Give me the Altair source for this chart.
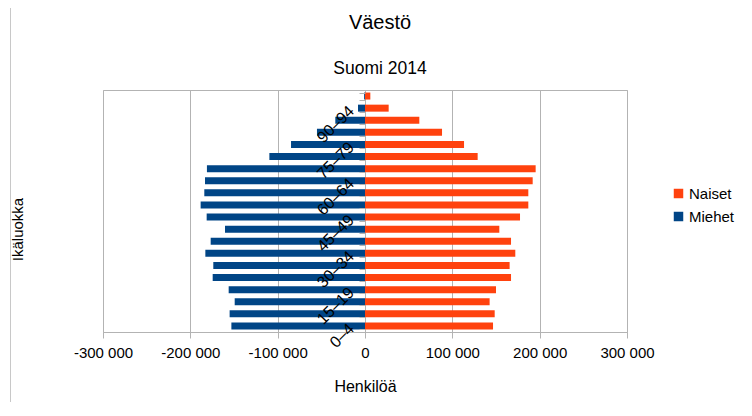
import altair as alt
import pandas as pd

ages = ["0–4", "5–9", "10–14", "15–19", "20–24", "25–29", "30–34", "35–39",
        "40–44", "45–49", "50–54", "55–59", "60–64", "65–69", "70–74", "75–79",
        "80–84", "85–89", "90–94", "95–"]
women = [146600, 148500, 142700, 150000, 167200, 165600, 172100, 167200,
         153800, 177500, 187000, 187000, 192000, 195400, 129000, 113400,
         88200, 62200, 27100, 6100]
men = [153000, 155000, 149200, 156100, 174400, 173700, 182800, 176700,
       160300, 181300, 188200, 184000, 183200, 181000, 109500, 84700,
       55000, 34000, 8000, 1000]
shown_labels = ["0–4", "15–19", "30–34", "45–49", "60–64", "75–79", "90–94"]
x_ticks = [-300000, -200000, -100000, 0, 100000, 200000, 300000]

rows = []
for a, w, m in zip(ages, women, men):
    rows.append({"Ikäluokka": a, "Sukupuoli": "Naiset", "Henkilöä": w})
    rows.append({"Ikäluokka": a, "Sukupuoli": "Miehet", "Henkilöä": -m})
df = pd.DataFrame(rows)

FONT = "Liberation Sans"
W, H = 524, 242
TOP = 82

label_list = "[" + ",".join("'" + s + "'" for s in shown_labels) + "]"

bars = alt.Chart(df).mark_bar(size=7).encode(
    x=alt.X("Henkilöä:Q",
            scale=alt.Scale(domain=[-300000, 300000], nice=False, zero=True),
            stack=None,
            axis=alt.Axis(values=x_ticks, title="Henkilöä", labelFlush=False,
                          labelExpr="(datum.value < 0 ? '-' : '') + replace(format(abs(datum.value), ',d'), ',', ' ')",
                          grid=True, gridColor="#b3b3b3", domainColor="#b3b3b3",
                          tickColor="#b3b3b3", tickSize=6, labelPadding=7,
                          labelFontSize=15, labelColor="#000000", labelFont=FONT,
                          titleFontSize=16, titleFont=FONT, titleFontWeight="normal",
                          titleColor="#000000", titlePadding=18)),
    y=alt.Y("Ikäluokka:N", sort=list(reversed(ages)),
            scale=alt.Scale(paddingInner=0.42, paddingOuter=0.21),
            axis=alt.Axis(offset=-(W / 2), tickBand="extent", grid=False, zindex=1,
                          domain=False, tickColor="#b3b3b3", tickSize=6,
                          labelAngle=-45, labelAlign="right", labelBaseline="middle",
                          labelPadding=8, labelFontSize=16, labelFont=FONT,
                          labelColor="#000000", labelOverlap=False,
                          labelExpr="indexof(" + label_list + ", datum.value) >= 0 ? datum.label : ''",
                          title="Ikäluokka", titleAngle=-90, titleX=-(W / 2) - 86,
                          titleY=H / 2 + 18, titleAlign="center", titleBaseline="middle",
                          titleFontSize=15, titleFont=FONT, titleFontWeight="normal",
                          titleColor="#000000")),
    color=alt.Color("Sukupuoli:N",
                    scale=alt.Scale(domain=["Naiset", "Miehet"], range=["#ff420e", "#004586"]),
                    legend=alt.Legend(title=None, orient="none", legendX=568, legendY=96,
                                      symbolType="square", symbolSize=90,
                                      symbolStrokeWidth=0, labelFontSize=15,
                                      labelFont=FONT, labelColor="#000000",
                                      rowPadding=7, labelOffset=3)),
)

frame = alt.Chart(pd.DataFrame({"k": [0]})).mark_rule(color="#c8c8c8", strokeWidth=1).encode(
    x=alt.value(-92.5), y=alt.value(-TOP), y2=alt.value(326)
)

chart = alt.layer(frame, bars).properties(
    width=W, height=H,
    title=alt.TitleParams(text="Väestö", subtitle="Suomi 2014", anchor="middle",
                          frame="group", dx=15, font=FONT, fontSize=20,
                          fontWeight="normal", color="#000000", subtitleFont=FONT,
                          subtitleFontSize=17.5, subtitleColor="#000000",
                          subtitlePadding=27, offset=13 - TOP - 0.5),
    autosize=alt.AutoSizeParams(type="none"),
    padding={"left": 95, "top": TOP, "right": 116, "bottom": 70},
).configure_view(stroke="#b3b3b3")

chart.save("out.html", embed_options={"renderer": "svg", "actions": False})
